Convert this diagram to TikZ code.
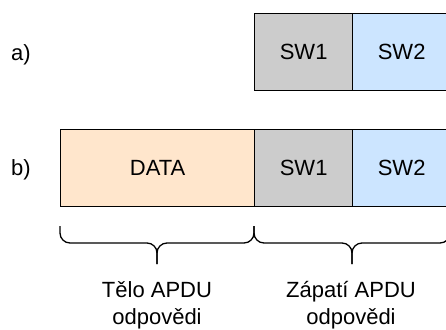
\documentclass[tikz,border=0pt]{standalone}
\usepackage{fontspec}
\setmainfont{Liberation Sans}
\begin{document}
\begin{tikzpicture}[x=1pt,y=-1pt,
  cell/.style={draw=black, line width=1.3pt, minimum height=77pt, inner sep=0pt, anchor=north west, font=\fontsize{22}{27}\selectfont},
  lbl/.style={inner sep=0pt, font=\fontsize{22}{27}\selectfont},
  brace/.style={line width=1.3pt, rounded corners=10pt}]
\useasboundingbox (0,0) rectangle (446,329);
\definecolor{swgray}{HTML}{CCCCCC}
\definecolor{swblue}{HTML}{CCE5FF}
\definecolor{dataor}{HTML}{FFE6CC}
% row a
\node[cell, fill=swgray, minimum width=98pt] (a1) at (254,13) {SW1};
\node[cell, fill=swblue, minimum width=98pt] (a2) at (352,13) {SW2};
% row b
\node[cell, fill=dataor, minimum width=194pt] (b0) at (60,129) {DATA};
\node[cell, fill=swgray, minimum width=98pt] (b1) at (254,129) {SW1};
\node[cell, fill=swblue, minimum width=98pt] (b2) at (352,129) {SW2};
% labels
\node[lbl, anchor=west] (la) at (11,55) {a)};
\node[lbl, anchor=west] (lb) at (11,170) {b)};
% braces
\coordinate (l0) at (60,226);
\coordinate (lm) at (157,243);
\coordinate (lt) at (157,264);
\coordinate (l1) at (254,226);
\coordinate (r0) at (254,226);
\coordinate (rm) at (352,243);
\coordinate (rt) at (352,264);
\coordinate (r1) at (450,226);
\draw[brace] (l0) |- (lm) -- (lt);
\draw[brace] (l1) |- (lm) -- (lt);
\draw[brace] (r0) |- (rm) -- (rt);
\draw[brace] (r1) |- (rm) -- (rt);
\node[lbl, align=center, anchor=north] (t1) at (157,281) {Tělo APDU\\odpovědi};
\node[lbl, align=center, anchor=north] (t2) at (351,281) {Zápatí APDU\\odpovědi};
\end{tikzpicture}
\end{document}
